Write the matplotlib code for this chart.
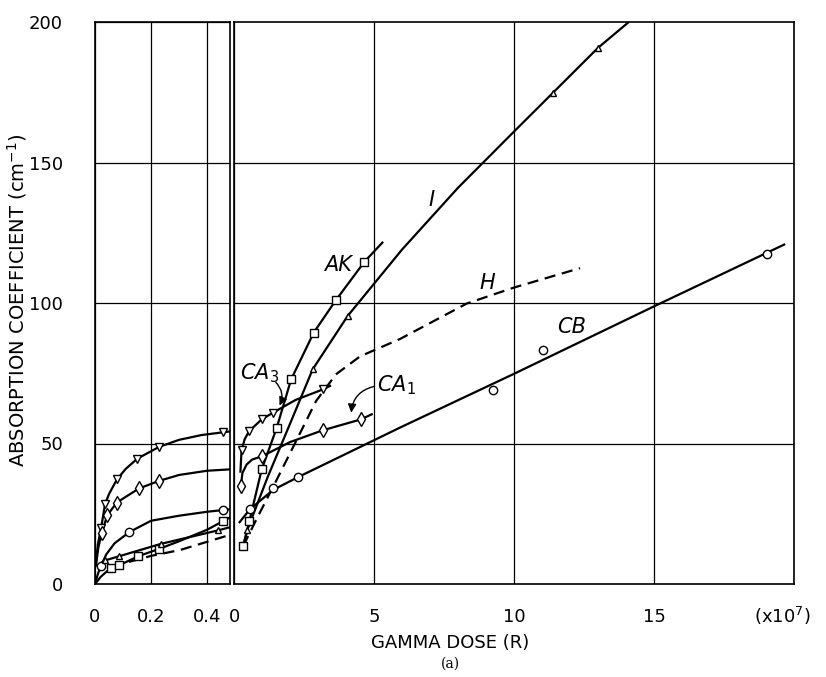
import numpy as np
import matplotlib
matplotlib.use('Agg')
import matplotlib.pyplot as plt
from matplotlib.patches import FancyArrowPatch

plt.rcParams['font.family'] = 'DejaVu Sans'

# ---- left panel: 0 .. 0.48 (x10^7 R) ----
# CA3 (down triangles)
ca3_l_mx = [0.022, 0.036, 0.078, 0.151, 0.229, 0.458]
ca3_l_my = [20, 28.5, 37.2, 44.6, 48.8, 54]
ca3_l_x = [0.004, 0.01, 0.022, 0.036, 0.05, 0.078, 0.11, 0.151, 0.229, 0.3, 0.38, 0.458, 0.482]
ca3_l_y = [8, 14, 20, 28.5, 32, 37.2, 41, 44.6, 48.8, 51.3, 53, 54, 54.3]
# CA1 (diamonds)
ca1_l_mx = [0.024, 0.044, 0.078, 0.157, 0.229]
ca1_l_my = [18.2, 24.5, 29, 34, 36.7]
ca1_l_x = [0.004, 0.012, 0.024, 0.044, 0.078, 0.157, 0.229, 0.3, 0.4, 0.482]
ca1_l_y = [7, 13, 18.2, 24.5, 29, 34, 36.7, 38.8, 40.3, 40.8]
# CB (circles)
cb_l_mx = [0.021, 0.123, 0.458]
cb_l_my = [6.4, 18.5, 26.3]
cb_l_x = [0, 0.01, 0.021, 0.04, 0.07, 0.123, 0.2, 0.3, 0.4, 0.482]
cb_l_y = [0, 3.5, 6.4, 10.5, 14.5, 18.5, 22.5, 24.3, 25.7, 26.6]
# AK (squares)
ak_l_mx = [0.056, 0.087, 0.155, 0.229, 0.458]
ak_l_my = [5.6, 6.7, 9.9, 12.5, 22.4]
ak_l_x = [0, 0.02, 0.04, 0.056, 0.087, 0.155, 0.229, 0.3, 0.4, 0.458, 0.482]
ak_l_y = [0, 2.5, 4.3, 5.6, 6.7, 9.9, 12.5, 15.2, 19.3, 22.4, 23.7]
# I (up triangles)
i_l_mx = [0.036, 0.087, 0.236, 0.44]
i_l_my = [8.4, 9.9, 14.3, 19.1]
i_l_x = [0.008, 0.036, 0.087, 0.236, 0.44, 0.482]
i_l_y = [6.5, 8.4, 9.9, 14.3, 19.1, 20.2]
# H (dashed, no markers)
h_l_x = [0.06, 0.2, 0.304, 0.482]
h_l_y = [6.2, 10, 12.1, 17.5]

# ---- right panel: 0 .. 20 (x10^7 R) ----
cb_r_mx = [0.57, 1.4, 2.3, 9.26, 11.05, 19.05]
cb_r_my = [26.6, 34, 38.1, 69.2, 83.4, 117.5]
cb_r_x = [0.2, 0.57, 1.4, 2.3, 6.0, 10, 15, 19.65]
cb_r_y = [22, 26.6, 33.5, 38.1, 56, 74.8, 98.8, 120.8]

ak_r_mx = [0.33, 0.55, 0.99, 1.52, 2.04, 2.85, 3.63, 4.66]
ak_r_my = [13.5, 22.4, 40.8, 55.4, 72.8, 89.5, 100.9, 114.7]
ak_r_x = [0.33, 0.55, 0.99, 1.52, 2.04, 2.85, 3.63, 4.66, 5.3]
ak_r_y = [13.5, 22.4, 40.8, 55.4, 72.8, 89.5, 100.9, 114.7, 121.5]

i_r_mx = [0.47, 2.81, 4.06, 11.4, 13.0]
i_r_my = [19.1, 76.4, 95.4, 174.9, 190.8]
i_r_x = [0.33, 0.47, 1.2, 2.0, 2.81, 4.06, 6, 8, 10, 11.4, 13.0, 14.1]
i_r_y = [13.5, 19.1, 38, 57, 76.4, 95.4, 119, 141, 161, 174.9, 190.8, 200]

h_r_x = [0.33, 0.8, 1.5, 2.22, 2.93, 3.64, 4.5, 5.93, 8.31, 10, 12.36]
h_r_y = [13.5, 23, 36.6, 50.9, 65.1, 74.6, 81, 87.2, 99.8, 105.5, 112.4]

ca1_r_mx = [0.25, 1.01, 3.17, 4.54]
ca1_r_my = [35, 45.5, 54.7, 58.6]
ca1_r_x = [0.25, 0.3, 0.45, 0.65, 1.01, 2.0, 3.17, 4.54, 4.92]
ca1_r_y = [35, 39.5, 42.5, 44.3, 45.5, 50.5, 54.7, 58.6, 60.4]

ca3_r_mx = [0.27, 0.54, 0.99, 1.4, 3.19]
ca3_r_my = [47.6, 54.4, 58.6, 61, 69.3]
ca3_r_x = [0.23, 0.27, 0.38, 0.54, 0.99, 1.4, 2.2, 3.19, 3.43]
ca3_r_y = [40, 47.6, 51.5, 54.4, 58.6, 61, 65.5, 69.3, 70.5]

fig = plt.figure(figsize=(8.26, 6.77), dpi=100)
bot = 1 - 584 / 677
hgt = (584 - 22) / 677
axl = fig.add_axes([95 / 826, bot, 135 / 826, hgt])
axr = fig.add_axes([234 / 826, bot, 560 / 826, hgt])

lw = 1.6
mk = dict(mfc='white', mec='k', mew=1.0, ls='none', zorder=4)

def curve(ax, x, y, mx=None, my=None, m=None, ms=5, dashed=False):
    ax.plot(x, y, color='k', lw=lw, ls=(0, (5, 3)) if dashed else '-', zorder=3)
    if mx is not None:
        ax.plot(mx, my, marker=m, ms=ms, **mk)

curve(axl, ca3_l_x, ca3_l_y, ca3_l_mx, ca3_l_my, 'v', ms=5.5)
curve(axl, ca1_l_x, ca1_l_y, ca1_l_mx, ca1_l_my, 'd', ms=7)
curve(axl, cb_l_x, cb_l_y, cb_l_mx, cb_l_my, 'o', ms=6)
curve(axl, ak_l_x, ak_l_y, ak_l_mx, ak_l_my, 's', ms=6)
curve(axl, i_l_x, i_l_y, i_l_mx, i_l_my, '^', ms=5)
curve(axl, h_l_x, h_l_y, dashed=True)

curve(axr, cb_r_x, cb_r_y, cb_r_mx, cb_r_my, 'o', ms=6)
curve(axr, ak_r_x, ak_r_y, ak_r_mx, ak_r_my, 's', ms=6)
curve(axr, i_r_x, i_r_y, i_r_mx, i_r_my, '^', ms=5)
curve(axr, h_r_x, h_r_y, dashed=True)
curve(axr, ca1_r_x, ca1_r_y, ca1_r_mx, ca1_r_my, 'd', ms=7)
curve(axr, ca3_r_x, ca3_r_y, ca3_r_mx, ca3_r_my, 'v', ms=5.5)

tick_fs = 13
axl.set_xlim(0, 0.482)
axr.set_xlim(0, 20)
for ax in (axl, axr):
    ax.set_ylim(0, 200)
    ax.grid(True, color='k', lw=0.9, zorder=1)
    ax.set_axisbelow(True)
    for s in ax.spines.values():
        s.set_linewidth(1.2)
    ax.tick_params(length=0, labelsize=tick_fs, pad=17)

axl.set_xticks([0, 0.2, 0.4])
axl.set_xticklabels(['0', '0.2', '0.4'])
axl.set_yticks([0, 50, 100, 150, 200])
axl.tick_params(axis='y', pad=23)
axr.set_xticks([0, 5, 10, 15, 20])
axr.set_xticklabels(['0', '5', '10', '15', ''])
axr.set_yticks([50, 100, 150])
axr.set_yticklabels([])

# curve labels
lab = dict(fontsize=15, style='italic', ha='center', va='center')
axr.text(3.71, 113.5, 'AK', **lab)
axr.text(7.06, 136.7, 'I', **lab)
axr.text(9.03, 107, 'H', **lab)
axr.text(12.06, 91.6, 'CB', **lab)
axr.text(0.22, 75, 'CA$_3$', fontsize=15, style='italic', ha='left', va='center')
axr.text(5.1, 70.8, 'CA$_1$', fontsize=15, style='italic', ha='left', va='center')
axr.add_patch(FancyArrowPatch((1.42, 72.5), (1.58, 62.6), connectionstyle='arc3,rad=-0.4',
                              arrowstyle='-|>,head_length=5,head_width=2.5', color='k', lw=1.0, zorder=5))
axr.add_patch(FancyArrowPatch((5.1, 70.5), (4.18, 60.0), connectionstyle='arc3,rad=0.4',
                              arrowstyle='-|>,head_length=5,head_width=2.5', color='k', lw=1.0, zorder=5))

axr.text(19.6, -11.5, '(x10$^7$)', fontsize=tick_fs, ha='center', va='center', clip_on=False)

fig.text(450 / 826, 1 - 643 / 677, 'GAMMA DOSE (R)', fontsize=13, ha='center', va='center')
fig.text(450 / 826, 1 - 664 / 677, '(a)', fontsize=10, ha='center', va='center', family='DejaVu Serif')
fig.text(17 / 826, 1 - 300 / 677, 'ABSORPTION COEFFICIENT (cm$^{-1}$)', fontsize=14,
         rotation=90, ha='center', va='center')

fig.savefig('out.png', dpi=100)
